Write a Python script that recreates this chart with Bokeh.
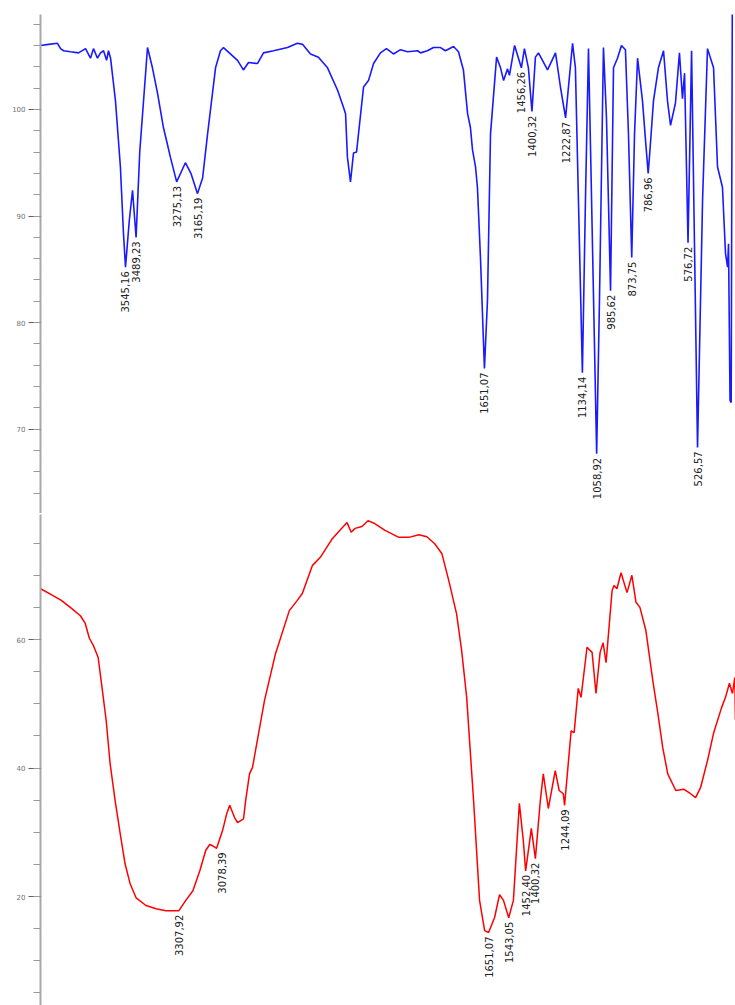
import numpy as np
from bokeh.plotting import figure
from bokeh.models import Range1d, SingleIntervalTicker
from bokeh.layouts import column
from bokeh.embed import file_html
from bokeh.resources import INLINE
from bokeh.core.properties import value

# ---------------- top (blue) spectrum ----------------
blue_wn = [3994, 3951, 3904, 3888, 3872, 3835, 3793, 3756, 3730, 3714,
           3693, 3677, 3661, 3645, 3635, 3624, 3598, 3572, 3556, 3545.16,
           3525, 3508, 3500, 3489.23, 3470, 3429, 3403, 3376, 3345, 3325,
           3308, 3275.13, 3229, 3200, 3165.19, 3138, 3112, 3091, 3070, 3044,
           3028, 2954, 2923, 2896, 2849,
           2817, 2764, 2690, 2638, 2611, 2569, 2527, 2479, 2426, 2395,
           2384, 2374, 2358, 2342, 2326, 2289, 2263, 2236, 2200, 2168,
           2131, 2094, 2057, 2004, 1988, 1952, 1920, 1883, 1857, 1814,
           1788, 1762, 1740, 1725, 1714, 1698, 1688, 1672, 1651.07, 1635,
           1619, 1587, 1566, 1550, 1529, 1519, 1492, 1456.26, 1440, 1419,
           1400.32, 1382, 1366, 1318, 1276, 1250, 1222.87, 1186, 1171, 1155,
           1134.14, 1118, 1102, 1091, 1058.92, 1044, 1023, 1007, 985.62, 970,
           949, 928, 907, 891, 873.75, 859, 843, 817, 801, 786.96,
           775, 759, 733, 706, 685, 669, 643, 622, 606, 595,
           576.72, 558, 526.57, 500,
           474, 442, 421, 395, 379, 368, 363, 358, 355, 349,
           343]
blue_t = [106.0, 106.1, 106.2, 105.7, 105.5, 105.4, 105.3, 105.7, 104.8, 105.7,
          104.8, 105.3, 105.5, 104.6, 105.5, 104.8, 100.8, 94.6, 88.4, 85.2,
          89.6, 92.4, 90.5, 88.0, 96.0, 105.8, 103.9, 101.5, 98.3, 96.8,
          95.5, 93.2, 95.0, 94.0, 92.1, 93.6, 97.7, 100.8, 103.9, 105.5,
          105.8, 104.6, 103.7, 104.4, 104.3,
          105.3, 105.5, 105.8, 106.2, 106.1, 105.2, 104.9, 103.9, 101.8, 100.2,
          99.6, 95.5, 93.2, 95.9, 96.0, 102.1, 102.7, 104.3, 105.3, 105.7,
          105.2, 105.6, 105.4, 105.5, 105.3, 105.5, 105.8, 105.8, 105.5, 105.9,
          105.4, 103.7, 99.6, 98.3, 96.2, 94.6, 92.7, 86.1, 75.7, 82.1,
          97.7, 104.9, 103.9, 102.7, 103.8, 103.2, 106.0, 103.9, 105.7, 103.9,
          99.8, 104.9, 105.3, 103.7, 105.3, 102.1, 99.2, 106.2, 103.9, 91.5,
          75.3, 91.5, 105.7, 96.2, 67.7, 82.1, 105.8, 99.2, 83.0, 103.9,
          104.8, 106.0, 105.6, 97.7, 86.1, 97.7, 104.8, 100.8, 97.1, 94.0,
          96.8, 100.8, 103.9, 105.5, 100.8, 98.5, 100.6, 105.3, 101.0, 103.4,
          87.5, 105.5, 68.3, 91.5,
          105.7, 103.9, 94.6, 92.7, 86.5, 85.2, 87.4, 78.0, 72.7, 72.5,
          110.0]
blue_peak_wn = [3545.16, 3489.23, 3275.13, 3165.19, 1651.07, 1456.26, 1400.32,
                1222.87, 1134.14, 1058.92, 985.62, 873.75, 786.96, 576.72, 526.57]
blue_peak_t = [85.2, 88.0, 93.2, 92.1, 75.7, 103.9, 99.8,
               99.2, 75.3, 67.7, 83.0, 86.1, 94.0, 87.5, 68.3]
blue_peak_text = ["3545,16", "3489,23", "3275,13", "3165,19", "1651,07", "1456,26",
                  "1400,32", "1222,87", "1134,14", "1058,92", "985,62", "873,75",
                  "786,96", "576,72", "526,57"]

# ---------------- bottom (red) spectrum ----------------
red_wn = [4048, 3979, 3937, 3889, 3835, 3809, 3787, 3766, 3740, 3724,
          3697, 3676, 3649, 3622, 3596, 3569, 3537, 3484, 3430, 3377,
          3307.92, 3271, 3233, 3196, 3164, 3143, 3127, 3106, 3074, 3052,
          3036, 3010, 2994, 2962, 2951, 2930, 2914, 2850, 2791, 2717,
          2674, 2647, 2594, 2551, 2487, 2434, 2408, 2386, 2365, 2328,
          2296, 2264, 2205, 2131, 2077, 2024, 1981, 1939, 1901, 1864,
          1822, 1795, 1768, 1731, 1699, 1672, 1651.07, 1619, 1592, 1571,
          1543.05, 1518, 1486, 1465, 1452.40, 1422, 1400.32, 1374, 1358, 1331,
          1294, 1273, 1251, 1244.09, 1209, 1193, 1171, 1156, 1124, 1097,
          1076, 1054, 1038, 1022, 990, 980, 964, 942, 910, 884,
          862, 841, 809, 772, 745, 719, 692, 649, 607, 570,
          543, 516, 479, 447, 404, 383, 362, 346, 333, 330]
red_t = [67.9, 66.8, 66.1, 65.0, 63.7, 62.5, 60.2, 59.1, 57.2, 53.6,
         47.4, 40.7, 34.9, 29.8, 25.1, 22.0, 19.8, 18.6, 18.1, 17.8,
         17.8, 19.4, 20.9, 24.0, 27.2, 28.1, 27.9, 27.5, 30.3, 32.9,
         34.2, 32.3, 31.5, 32.1, 34.9, 39.1, 40.1, 50.5, 57.8, 64.5,
         66.1, 67.2, 71.5, 72.8, 75.7, 77.4, 78.2, 76.7, 77.3, 77.6,
         78.5, 78.1, 77.0, 75.9, 75.9, 76.3, 76.0, 74.9, 73.4, 69.2,
         64.0, 58.3, 51.0, 34.9, 19.4, 14.7, 14.4, 16.7, 20.3, 19.4,
         16.7, 19.4, 34.5, 28.7, 24.0, 30.6, 25.9, 34.9, 39.1, 33.7,
         39.6, 36.5, 36.0, 34.2, 45.8, 45.5, 52.4, 51.0, 58.8, 58.0,
         51.6, 58.0, 59.5, 56.4, 67.6, 68.4, 67.9, 70.4, 67.3, 70.0,
         65.8, 65.0, 61.4, 53.6, 48.5, 43.2, 39.1, 36.5, 36.7, 36.0,
         35.4, 37.0, 41.2, 45.4, 49.4, 51.0, 53.2, 51.6, 54.1, 47.5]
red_peak_wn = [3307.92, 3078.39, 1651.07, 1543.05, 1452.40, 1400.32, 1244.09]
red_peak_t = [17.8, 27.5, 14.4, 16.7, 24.0, 25.9, 34.2]
red_peak_text = ["3307,92", "3078,39", "1651,07", "1543,05", "1452,40", "1400,32", "1244,09"]


def make_panel(width, height, xr, yr, left, top, interval, minor):
    p = figure(width=width, height=height,
               x_range=Range1d(*xr), y_range=Range1d(*yr),
               output_backend="svg", toolbar_location=None,
               x_axis_location=None, y_axis_location="left",
               min_border_left=left, min_border_right=0,
               min_border_top=top, min_border_bottom=0)
    p.grid.visible = False
    p.outline_line_color = None
    p.background_fill_color = "white"
    p.border_fill_color = "white"
    ax = p.yaxis[0]
    ax.ticker = SingleIntervalTicker(interval=interval, num_minor_ticks=minor)
    ax.axis_line_color = "#a8a8a8"
    ax.axis_line_width = 2
    ax.major_tick_line_color = "#606060"
    ax.major_tick_out = 12
    ax.major_tick_in = 0
    ax.minor_tick_line_color = "#9a9a9a"
    ax.minor_tick_out = 7
    ax.minor_tick_in = 0
    ax.major_label_text_font = "DejaVu Sans"
    ax.major_label_text_font_size = "7px"
    ax.major_label_text_color = "#707070"
    ax.major_label_standoff = 3
    return p


top = make_panel(735, 513, (3993.7, 326.2), (62.1, 108.9), 40, 14, 10, 5)
top.line(blue_wn, blue_t, line_color="#1a1aff", line_width=1.6)
top.text(x=blue_peak_wn, y=blue_peak_t, text=blue_peak_text, angle=np.pi / 2,
         text_align="right", text_baseline="middle", y_offset=4,
         text_font=value("DejaVu Sans"), text_font_size="10px", text_color="#222222")

bottom = make_panel(735, 492, (4048.5, 329.5), (3.04, 79.46), 37, 1, 20, 4)
bottom.line(red_wn, red_t, line_color="#ff0000", line_width=1.5)
bottom.text(x=red_peak_wn, y=red_peak_t, text=red_peak_text, angle=np.pi / 2,
            text_align="right", text_baseline="middle", y_offset=4,
            text_font=value("DejaVu Sans"), text_font_size="10px", text_color="#222222")

layout = column(top, bottom, spacing=0)
open("out.html", "w").write(file_html(layout, INLINE))
